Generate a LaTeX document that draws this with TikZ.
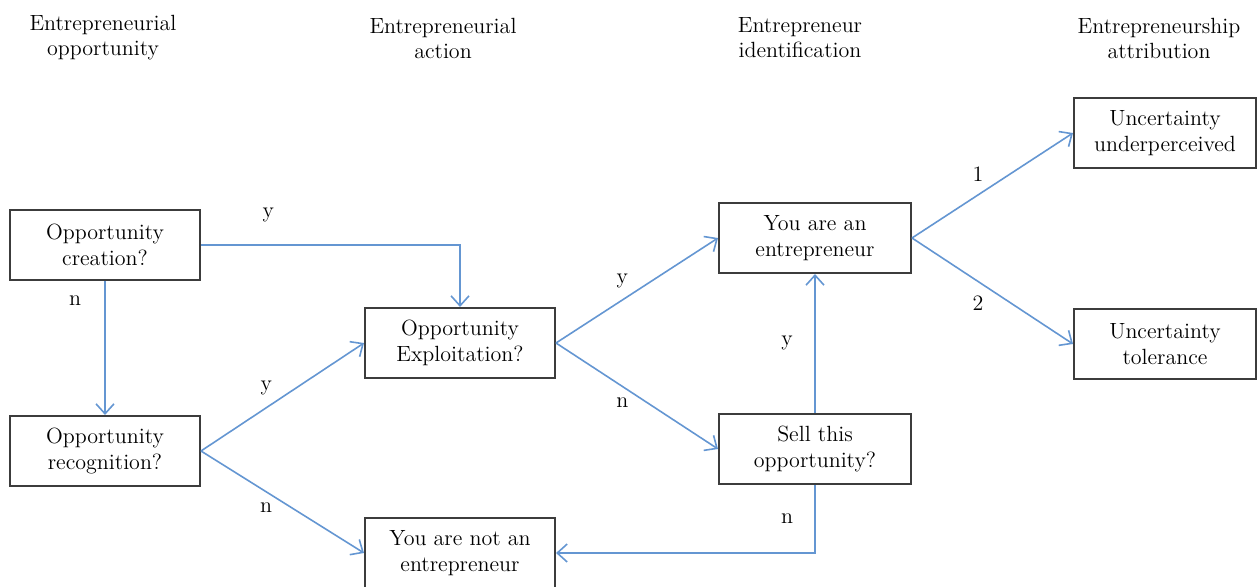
\documentclass[tikz,border=0pt]{standalone}
\usepackage{tikz}
\usetikzlibrary{arrows.meta,positioning,calc}
\definecolor{ink}{RGB}{60,60,60}
\definecolor{flow}{RGB}{100,150,210}
\tikzset{
  obj/.style={draw=ink,line width=1pt,fill=white,inner sep=2pt,align=center,
    minimum height=35pt,font=\fontsize{11}{13}\selectfont},
  head/.style={align=center,inner sep=0pt,font=\fontsize{11}{12.5}\selectfont},
  arr/.style={-{Straight Barb[length=5pt,width=9pt]},line width=0.8pt,flow},
  lbl/.style={inner sep=0pt,font=\fontsize{11}{13}\selectfont,text=black},
}
\begin{document}
\begin{tikzpicture}[x=0.5pt,y=-0.5pt]
  \useasboundingbox (0,0) rectangle (1257,587);
  \node[head] (h1) at (103,38) {Entrepreneurial\\opportunity};
  \node[head] (h2) at (443,38) {Entrepreneurial\\action};
  \node[head] (h3) at (800,38) {Entrepreneur\\identification};
  \node[head] (h4) at (1159,38) {Entrepreneurship\\attribution};

  \node[obj,minimum width=95pt] (cre) at (105,245) {Opportunity\\creation?};
  \node[obj,minimum width=95pt] (rec) at (105,451) {Opportunity\\recognition?};
  \node[obj,minimum width=95pt] (exp) at (460,343) {Opportunity\\Exploitation?};
  \node[obj,minimum width=95pt] (not) at (460,553) {You are not an\\entrepreneur};
  \node[obj,minimum width=96pt] (ent) at (815,238) {You are an\\entrepreneur};
  \node[obj,minimum width=96pt] (sell) at (815,449) {Sell this\\opportunity?};
  \node[obj,minimum width=91pt] (und) at (1165,133) {Uncertainty\\underperceived};
  \node[obj,minimum width=91pt] (tol) at (1165,344) {Uncertainty\\tolerance};

  \draw[arr] (cre.east) -| node[lbl,pos=0.13,yshift=15pt]{y} (exp.north);
  \draw[arr] (cre.south) -- node[lbl,pos=0.15,xshift=-15pt]{n} (rec.north);
  \draw[arr] (rec.east) -- node[lbl,pos=0.4,yshift=10pt]{y} (exp.west);
  \draw[arr] (rec.east) -- node[lbl,pos=0.4,yshift=-8pt]{n} (not.west);
  \draw[arr] (exp.east) -- node[lbl,pos=0.41,yshift=9.5pt]{y} (ent.west);
  \draw[arr] (exp.east) -- node[lbl,pos=0.41,yshift=-8pt]{n} (sell.west);
  \draw[arr] (sell.north) -- node[lbl,pos=0.5,xshift=-14pt]{y} (ent.south);
  \draw[arr] (sell.south) |- node[lbl,pos=0.25,xshift=-14pt]{n} (not.east);
  \draw[arr] (ent.east) -- node[lbl,pos=0.41,yshift=10.5pt]{1} (und.west);
  \draw[arr] (ent.east) -- node[lbl,pos=0.41,yshift=-11pt]{2} (tol.west);
\end{tikzpicture}
\end{document}
